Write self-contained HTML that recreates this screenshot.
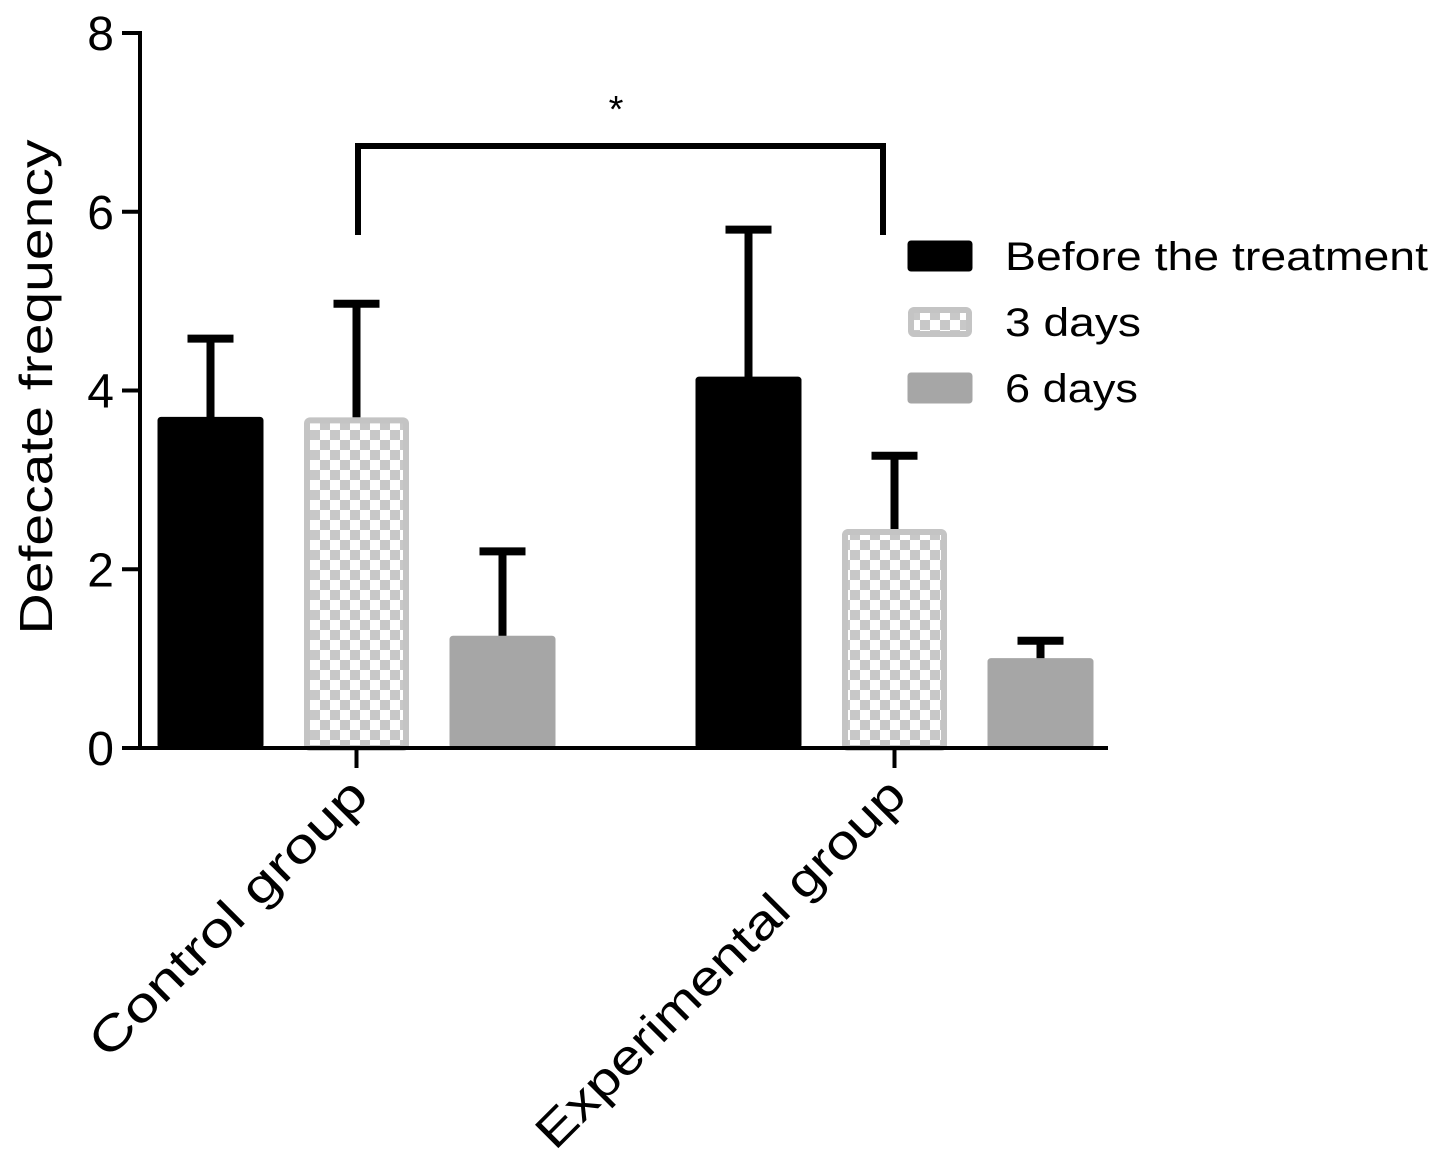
<!DOCTYPE html>
<html><head><meta charset="utf-8"><style>body{margin:0;background:#fff}svg{display:block}</style></head>
<body>
<svg id="chart" width="1441" height="1163" xmlns="http://www.w3.org/2000/svg" font-family="Liberation Sans, sans-serif">
<defs>
<pattern id="checker" width="20" height="20" patternUnits="userSpaceOnUse">
<rect width="20" height="20" fill="#ffffff"/>
<rect width="10" height="10" fill="#c8c8c8"/>
<rect x="10" y="10" width="10" height="10" fill="#c8c8c8"/>
</pattern>
</defs>
<g id="plot"></g>
</svg>
<script>
const groups = ["Control group", "Experimental group"];
const seriesNames = ["Before the treatment", "3 days", "6 days"];
const meansBefore = [3.7, 4.15];
const means3 = [3.7, 2.45];
const means6 = [1.25, 1.0];
const errBefore = [0.88, 1.65];
const err3 = [1.27, 0.82];
const err6 = [0.95, 0.2];
const yTicks = [0, 2, 4, 6, 8];

const NS = "http://www.w3.org/2000/svg";
const g = document.getElementById('plot');
const y0 = 748, yTop = 33, yMax = 8;
function yS(v){ return y0 - (y0 - yTop) * v / yMax; }
const groupStart = [158, 696];
const barW = 105, barStep = 146;
function xBar(gi, si){ return groupStart[gi] + si * barStep; }
function mk(tag, attrs){ const e = document.createElementNS(NS, tag); for (const k in attrs) e.setAttribute(k, attrs[k]); g.appendChild(e); return e; }

const allMeans = [meansBefore, means3, means6];
const allErr = [errBefore, err3, err6];
const fills = ["#000000", "url(#checker)", "#a6a6a6"];
const strokes = ["#000000", "#c4c4c4", "#a6a6a6"];

for (let gi = 0; gi < groups.length; gi++) {
  for (let si = 0; si < 3; si++) {
    const v = allMeans[si][gi], e = allErr[si][gi];
    const x = xBar(gi, si), cx = x + barW / 2;
    const ln = mk('line', {x1: cx, x2: cx, y1: yS(v), y2: yS(v + e), stroke: '#000', 'stroke-width': 8});
    
    
    mk('line', {x1: cx - 23, x2: cx + 23, y1: yS(v + e), y2: yS(v + e), stroke: '#000', 'stroke-width': 8});
    const inset = si === 1 ? 3 : 0;
    const r = mk('rect', {x: x + inset, y: yS(v) + inset, width: barW - 2 * inset, height: y0 - yS(v) - inset, fill: fills[si], stroke: strokes[si], 'stroke-width': si === 1 ? 6 : 1, rx: 3});
    
    
  }
}

const ya = mk('line', {x1: 140, x2: 140, y1: yTop - 2, y2: y0 + 2, stroke: '#000', 'stroke-width': 4});


const xa = mk('line', {x1: 122, x2: 1108, y1: y0, y2: y0, stroke: '#000', 'stroke-width': 4});


for (const t of yTicks) {
  mk('line', {x1: 122, x2: 140, y1: yS(t), y2: yS(t), stroke: '#000', 'stroke-width': 4});
  const tx = mk('text', {x: 114, y: yS(t) + 17, 'text-anchor': 'end', 'font-size': 48});
  tx.textContent = t;
  
  
}
const yt = mk('text', {transform: 'translate(52,387) rotate(-90)', 'text-anchor': 'middle', 'font-size': 46, textLength: 495, lengthAdjust: 'spacingAndGlyphs'});
yt.textContent = 'Defecate frequency';



const catLens = [371, 500];
for (let gi = 0; gi < groups.length; gi++) {
  const cx = xBar(gi, 1) + barW / 2;
  mk('line', {x1: cx, x2: cx, y1: y0, y2: y0 + 20, stroke: '#000', 'stroke-width': 4});
  const lt = mk('text', {transform: 'translate(' + (cx + 14) + ',' + (y0 + 50) + ') rotate(-45)', 'text-anchor': 'end', 'font-size': 48, textLength: catLens[gi], lengthAdjust: 'spacingAndGlyphs'});
  lt.textContent = groups[gi];
  
  
}

const br = mk('path', {d: 'M358 235 V146 H883 V235', fill: 'none', stroke: '#000', 'stroke-width': 6});


const st = mk('text', {x: 616, y: 122, 'text-anchor': 'middle', 'font-size': 38});
st.textContent = '*';



const legY = [256, 322, 388];
const legLens = [423, 136, 133];
for (let si = 0; si < 3; si++) {
  const lr = mk('rect', {x: 908 + (si === 1 ? 3 : 0), y: legY[si] - 15 + (si === 1 ? 3 : 0), width: 64 - (si === 1 ? 6 : 0), height: 30 - (si === 1 ? 6 : 0), fill: fills[si], stroke: strokes[si], 'stroke-width': si === 1 ? 6 : 1, rx: 3});
  
  
  const lt = mk('text', {x: 1005, y: legY[si] + 14, 'font-size': 40, textLength: legLens[si], lengthAdjust: 'spacingAndGlyphs'});
  lt.textContent = seriesNames[si];
  
  
}
</script>
</body></html>
